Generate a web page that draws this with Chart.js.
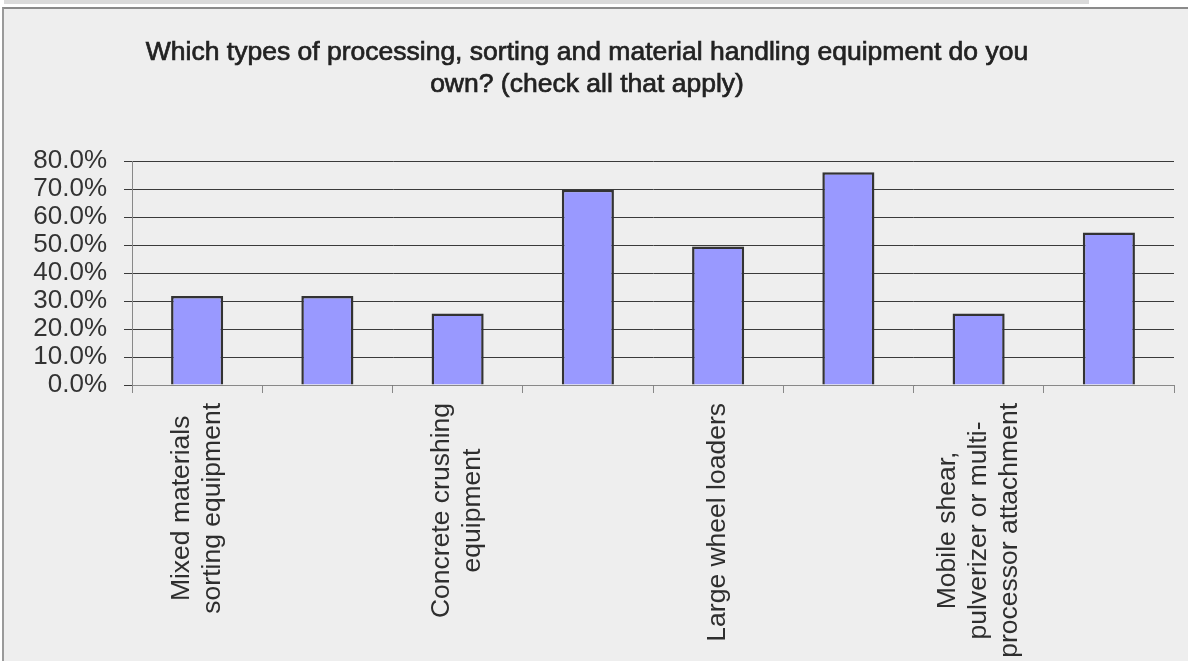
<!DOCTYPE html>
<html>
<head>
<meta charset="utf-8">
<script src="https://cdn.jsdelivr.net/npm/chart.js@4"></script>
<style>
  html, body { margin: 0; padding: 0; background: #ffffff; width: 1188px; height: 661px; overflow: hidden; }
  #strip { position: absolute; left: 4px; top: 0; width: 1085px; height: 4px; background: #dadada; }
  #frame { position: absolute; left: 2px; top: 7px; width: 1186px; height: 654px; box-sizing: border-box;
           border-top: 2px solid #8a8a8a; border-left: 2px solid #9a9a9a; background: #eeeeee; }
  #c { display: block; }
</style>
</head>
<body>
<div id="strip"></div>
<div id="frame"><canvas id="c" width="1184" height="652"></canvas></div>
<script>
const titleLines = ["Which types of processing, sorting and material handling equipment do you", "own? (check all that apply)"];
const categories = [
  ["Mixed materials", "sorting equipment"],
  [""],
  ["Concrete crushing", "equipment"],
  [""],
  ["Large wheel loaders"],
  [""],
  ["Mobile shear,", "pulverizer or multi-", "processor attachment"],
  [""]
];
const values = [31.8, 31.8, 25.5, 69.7, 49.5, 76.0, 25.5, 54.5];
const yTicks = [0, 10, 20, 30, 40, 50, 60, 70, 80];

const FONT = "'Liberation Sans', Arial, sans-serif";

const titlePlugin = {
  id: 'titleText',
  afterDraw(chart) {
    const ctx = chart.ctx;
    ctx.save();
    ctx.font = "26.5px " + FONT;
    ctx.fillStyle = '#222222';
    ctx.strokeStyle = '#222222';
    ctx.lineWidth = 0.7;
    ctx.textAlign = 'center';
    ctx.textBaseline = 'middle';
    titleLines.forEach((l, k) => {
      const y = 43.8 + k * 31.6;
      ctx.fillText(l, 583, y);
      ctx.strokeText(l, 583, y);
    });
    ctx.restore();
  }
};

const rotatedLabels = {
  id: 'rotatedLabels',
  afterDraw(chart) {
    const ctx = chart.ctx;
    const xs = chart.scales.x;
    ctx.save();
    ctx.font = "26.5px " + FONT;
    ctx.fillStyle = '#2e2e2e';
    ctx.textAlign = 'center';
    ctx.textBaseline = 'middle';
    const lh = 31;
    categories.forEach((lines, i) => {
      const x = xs.getPixelForValue(i);
      const maxW = Math.max(...lines.map(l => ctx.measureText(l).width));
      ctx.save();
      ctx.translate(x, xs.top + 18);
      ctx.rotate(-Math.PI / 2);
      lines.forEach((l, k) => {
        ctx.fillText(l, -maxW / 2, (k - (lines.length - 1) / 2) * lh);
      });
      ctx.restore();
    });
    ctx.restore();
  }
};

new Chart(document.getElementById('c'), {
  type: 'bar',
  data: {
    labels: categories.map(c => c.join(' ')),
    datasets: [{
      data: values,
      backgroundColor: '#9999ff',
      borderColor: '#333333',
      borderWidth: 2.5,
      barPercentage: 0.4,
      categoryPercentage: 1.0
    }]
  },
  options: {
    responsive: false,
    devicePixelRatio: 1,
    animation: false,
    layout: { padding: { left: 0, right: 14, top: 152, bottom: 0 } },
    plugins: {
      legend: { display: false },
      tooltip: { enabled: false },
      title: { display: false }
    },
    scales: {
      x: {
        grid: { offset: true, drawOnChartArea: false, tickLength: 8, color: '#888888', lineWidth: 1 },
        border: { color: '#888888', width: 1 },
        ticks: { display: false },
        afterFit(scale) { scale.height = 276; }
      },
      y: {
        min: 0,
        max: 80,
        afterBuildTicks(scale) { scale.ticks = yTicks.map(v => ({ value: v })); },
        grid: { color: '#3a3a3a', lineWidth: 1, tickLength: 8 },
        border: { color: '#888888', width: 1 },
        ticks: {
          autoSkip: false,
          color: '#333333',
          padding: 17,
          font: { family: FONT, size: 26 },
          callback: v => v.toFixed(1) + '%'
        },
        afterFit(scale) { scale.width = 128; }
      }
    }
  },
  plugins: [titlePlugin, rotatedLabels]
});
</script>
</body>
</html>
